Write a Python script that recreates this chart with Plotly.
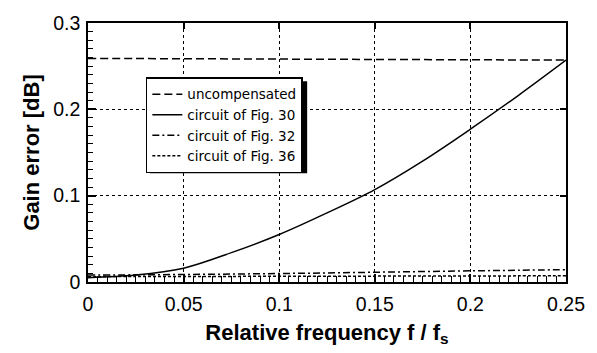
import plotly.graph_objects as go

# Relative frequency f / fs
freq = [0.0, 0.025, 0.05, 0.075, 0.1, 0.125, 0.15, 0.175, 0.2, 0.225, 0.25]

# Gain error [dB] for each circuit variant
uncompensated = [0.259, 0.2588, 0.2586, 0.2584, 0.2582, 0.258, 0.2578, 0.2576, 0.2574, 0.2572, 0.257]
fig30 = [0.005, 0.008, 0.016, 0.034, 0.055, 0.080, 0.107, 0.140, 0.177, 0.216, 0.257]
fig32 = [0.008, 0.0083, 0.0087, 0.0092, 0.0098, 0.0105, 0.0113, 0.0121, 0.0129, 0.0136, 0.0143]
fig36 = [0.0062, 0.0063, 0.0064, 0.0065, 0.0066, 0.0067, 0.0068, 0.0069, 0.007, 0.0071, 0.0072]

series = [
    ("uncompensated", uncompensated, "8px,4px"),
    ("circuit of Fig. 30", fig30, "solid"),
    ("circuit of Fig. 32", fig32, "7px,3px,2px,3px"),
    ("circuit of Fig. 36", fig36, "3px,2px"),
]

fig = go.Figure()
for name, vals, dash in series:
    fig.add_trace(go.Scatter(
        x=freq, y=vals, mode="lines", name=name,
        line=dict(color="black", width=1.5, dash=dash, shape="spline"),
    ))

font = "Liberation Sans, Arial, Helvetica, sans-serif"

leg_x, leg_y = 0.121, 0.79

fig.update_layout(
    width=597, height=353,
    margin=dict(l=88, r=29, t=16, b=67),
    paper_bgcolor="white", plot_bgcolor="white",
    font=dict(family=font, color="black"),
    showlegend=True,
    legend=dict(
        x=leg_x, y=leg_y, xanchor="left", yanchor="top",
        bgcolor="white", bordercolor="black", borderwidth=1.5,
        font=dict(size=13.5, family="DejaVu Sans, sans-serif"),
        itemwidth=30, tracegroupgap=0,
    ),
    xaxis=dict(
        range=[0, 0.25], tickvals=[0, 0.05, 0.1, 0.15, 0.2, 0.25],
        ticktext=["0", "0.05", "0.1", "0.15", "0.2", "0.25"],
        ticks="inside", ticklen=8, tickwidth=1.5, tickcolor="black",
        minor=dict(dtick=0.005, ticks="inside", ticklen=6, tickwidth=1, tickcolor="black", showgrid=False),
        showline=True, linecolor="black", linewidth=1.5, mirror=True,
        showgrid=True, gridcolor="black", griddash="dot", gridwidth=1,
        zeroline=False,
        tickfont=dict(size=19.5), ticklabelstandoff=4,
        title=dict(text="<b>Relative frequency f / f<sub>s</sub></b>", font=dict(size=22), standoff=10),
    ),
    yaxis=dict(
        range=[0, 0.3], tickvals=[0, 0.1, 0.2, 0.3],
        ticktext=["0", "0.1", "0.2", "0.3"],
        ticks="inside", ticklen=8, tickwidth=1.5, tickcolor="black",
        minor=dict(dtick=0.01, ticks="inside", ticklen=5, tickwidth=1, tickcolor="black", showgrid=False),
        showline=True, linecolor="black", linewidth=1.5, mirror=True,
        showgrid=True, gridcolor="black", griddash="dot", gridwidth=1,
        zeroline=False,
        tickfont=dict(size=19.5), ticklabelstandoff=2,
        title=dict(text="<b>Gain error [dB]</b>", font=dict(size=22), standoff=8),
    ),
    # top and right axes carrying only the major ticks
    xaxis2=dict(
        range=[0, 0.25], overlaying="x", side="top", tickvals=[0, 0.05, 0.1, 0.15, 0.2, 0.25],
        ticks="inside", ticklen=6, tickwidth=1.5, tickcolor="black",
        showticklabels=False, showgrid=False, zeroline=False,
    ),
    yaxis2=dict(
        range=[0, 0.3], overlaying="y", side="right", tickvals=[0, 0.1, 0.2, 0.3],
        ticks="inside", ticklen=6, tickwidth=1.5, tickcolor="black",
        showticklabels=False, showgrid=False, zeroline=False,
    ),
)

# invisible trace so the secondary axes get drawn
fig.add_trace(go.Scatter(x=[0], y=[0], xaxis="x2", yaxis="y2", mode="markers",
                         marker=dict(opacity=0), showlegend=False, hoverinfo="skip"))

# drop shadow behind the legend box (plot area is 480 x 270 px)
plot_w, plot_h = 480, 270
box_w, box_h, off = 158, 96, 4
fig.add_shape(type="rect", xref="paper", yref="paper",
              x0=leg_x + off / plot_w, x1=leg_x + (box_w + off) / plot_w,
              y0=leg_y - (box_h + off) / plot_h, y1=leg_y - off / plot_h,
              fillcolor="black", line=dict(width=0), layer="above")

fig.write_html("out.html")
